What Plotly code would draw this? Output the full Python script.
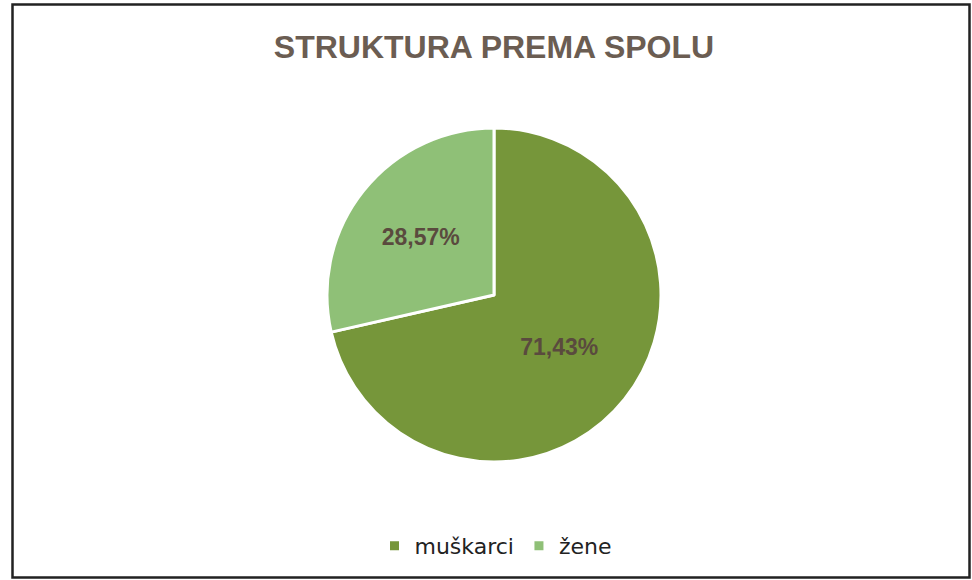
import plotly.graph_objects as go

categories = ["muškarci", "žene"]
values = [71.43, 28.57]
colors = ["#76963a", "#8fc077"]

W, H = 972, 580
cx, cy, r = 494, 295, 167

fig = go.Figure(go.Pie(
    labels=categories,
    values=values,
    sort=False,
    direction="clockwise",
    rotation=0,
    marker=dict(colors=colors, line=dict(color="white", width=3)),
    texttemplate="<b>%{percent:.2%}</b>",
    textposition="inside",
    insidetextorientation="horizontal",
    textfont=dict(family="Liberation Sans, Arial", size=23, color="#5a4a3e"),
    hoverinfo="label+percent",
    domain=dict(x=[(cx - r) / W, (cx + r) / W], y=[1 - (cy + r) / H, 1 - (cy - r) / H]),
))

fig.update_layout(
    width=W, height=H,
    margin=dict(l=0, r=0, t=0, b=0),
    paper_bgcolor="white",
    plot_bgcolor="white",
    separators=",.",
    title=dict(text="<b>STRUKTURA PREMA SPOLU</b>", x=494 / W, xanchor="center",
               y=1 - 47 / H, yanchor="middle",
               font=dict(family="Liberation Sans, Arial", size=32, color="#6b5d52")),
    legend=dict(orientation="h", x=496 / W, xanchor="center", y=1 - 546 / H, yanchor="middle",
                font=dict(family="DejaVu Sans, Arial", size=22, color="#222222"),
                itemwidth=30, traceorder="normal"),
    shapes=[dict(type="rect", xref="paper", yref="paper",
                 x0=12.5 / W, x1=969.5 / W, y0=1 - 577.5 / H, y1=1 - 4.5 / H,
                 line=dict(color="#222222", width=2.5), fillcolor="rgba(0,0,0,0)")],
)

fig.write_html("out.html", config={"displayModeBar": False},
               post_script="document.body.style.margin='0';document.body.style.overflow='hidden';")
